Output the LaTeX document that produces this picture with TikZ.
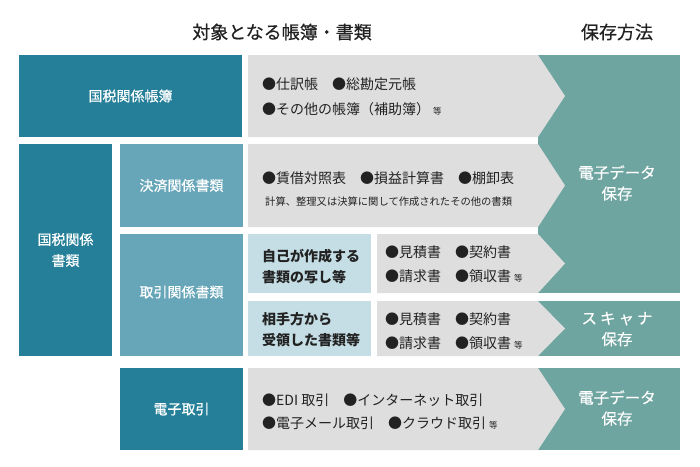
\documentclass[tikz,border=0pt]{standalone}
\usepackage{fontspec}
\setmainfont{Noto Sans CJK JP}
\newfontfamily\ttlfont[FakeBold=0.6]{Noto Sans CJK JP}
\newfontfamily\labfont[FakeBold=0.3]{Noto Sans CJK JP}
\definecolor{dk}{HTML}{257F99}
\definecolor{md}{HTML}{67A6B9}
\definecolor{pl}{HTML}{C5DEE6}
\definecolor{gy}{HTML}{DEDEDE}
\definecolor{tl}{HTML}{6FA5A0}
\definecolor{tx}{HTML}{222222}
\begin{document}
\begin{tikzpicture}[x=1pt,y=-1pt,
  box/.style={anchor=north west, inner sep=0pt, outer sep=0pt},
  wlab/.style={text=white, font=\labfont\fontsize{14}{21}\selectfont, align=center},
  blab/.style={text=tx, font=\bfseries\fontsize{14}{21}\selectfont, align=left, anchor=west, inner sep=0pt},
  item/.style={text=tx, font=\fontsize{14}{17}\selectfont, anchor=west, inner sep=0pt},
  note/.style={text=tx, font=\fontsize{10.3}{12}\selectfont, anchor=west, inner sep=0pt},
  slab/.style={text=white, font=\labfont\fontsize{15.5}{21}\selectfont, align=center},
  ttl/.style={text=tx, font=\ttlfont\fontsize{18}{20}\selectfont}
]
\useasboundingbox[fill=white] (0,0) rectangle (700,466);
\newcommand{\etc}{\hspace{3pt}{\fontsize{8.5}{8.5}\selectfont 等}}
% titles
\node[ttl] (t1) at (282,32) {対象となる帳簿・書類};
\node[ttl] (t2) at (617,32) {保存方法};
% teal storage blocks
\fill[tl] (538,55) rectangle (680,293);
\fill[tl] (538,301) rectangle (680,356);
\fill[tl] (538,368) rectangle (680,450);
% gray chevrons
\fill[gy] (248,55) -- (538,55) -- (565,96) -- (538,137) -- (248,137) -- cycle;
\fill[gy] (248,144) -- (538,144) -- (565,185.5) -- (538,227) -- (248,227) -- cycle;
\fill[gy] (377,234) -- (538,234) -- (565,263.5) -- (538,293) -- (377,293) -- cycle;
\fill[gy] (377,301) -- (538,301) -- (565,328.5) -- (538,356) -- (377,356) -- cycle;
\fill[gy] (248,368) -- (538,368) -- (565,409) -- (538,450) -- (248,450) -- cycle;
% category boxes
\node[box, fill=dk, minimum width=223pt, minimum height=82pt] (A) at (19,55) {};
\node[wlab] (Al) at (A.center) {国税関係帳簿};
\node[box, fill=dk, minimum width=93pt, minimum height=212pt] (B) at (19,144) {};
\node[wlab] (Bl) at (B.center) {国税関係\\書類};
\node[box, fill=md, minimum width=123pt, minimum height=83pt] (C) at (120,144) {};
\node[wlab] (Cl) at (C.center) {決済関係書類};
\node[box, fill=md, minimum width=123pt, minimum height=122pt] (D) at (120,234) {};
\node[wlab] (Dl) at ([yshift=3pt]D.center) {取引関係書類};
\node[box, fill=pl, minimum width=123pt, minimum height=59pt] (E) at (248,234) {};
\node[blab] (El) at (262,267) {自己が作成する\\書類の写し等};
\node[box, fill=pl, minimum width=123pt, minimum height=55pt] (F) at (248,301) {};
\node[blab] (Fl) at (262,330) {相手方から\\受領した書類等};
\node[box, fill=dk, minimum width=123pt, minimum height=82pt] (G) at (120,368) {};
\node[wlab] (Gl) at (G.center) {電子取引};
% items
\node[item] (i1a) at (262,84) {●仕訳帳　●総勘定元帳};
\node[item] (i1b) at (262,109) {●その他の帳簿（補助簿）\etc};
\node[item] (i2a) at (262,178) {●賃借対照表　●損益計算書　●棚卸表};
\node[note] (i2b) at (265,202) {計算、整理又は決算に関して作成されたその他の書類};
\node[item] (i3a) at (385,252) {●見積書　●契約書};
\node[item] (i3b) at (385,276) {●請求書　●領収書\etc};
\node[item] (i4a) at (385,319) {●見積書　●契約書};
\node[item] (i4b) at (385,343) {●請求書　●領収書\etc};
\node[item] (i5a) at (262,400) {●EDI 取引　●インターネット取引};
\node[item] (i5b) at (262,423) {●電子メール取引　●クラウド取引\etc};
% storage labels
\node[slab] (s1) at (617,183) {電子データ\\保存};
\node[slab] (s2) at (617,329) {ス\hspace{3pt}キ\hspace{3pt}ャ\hspace{3pt}ナ\\保存};
\node[slab] (s3) at (617,408) {電子データ\\保存};
\end{tikzpicture}
\end{document}
